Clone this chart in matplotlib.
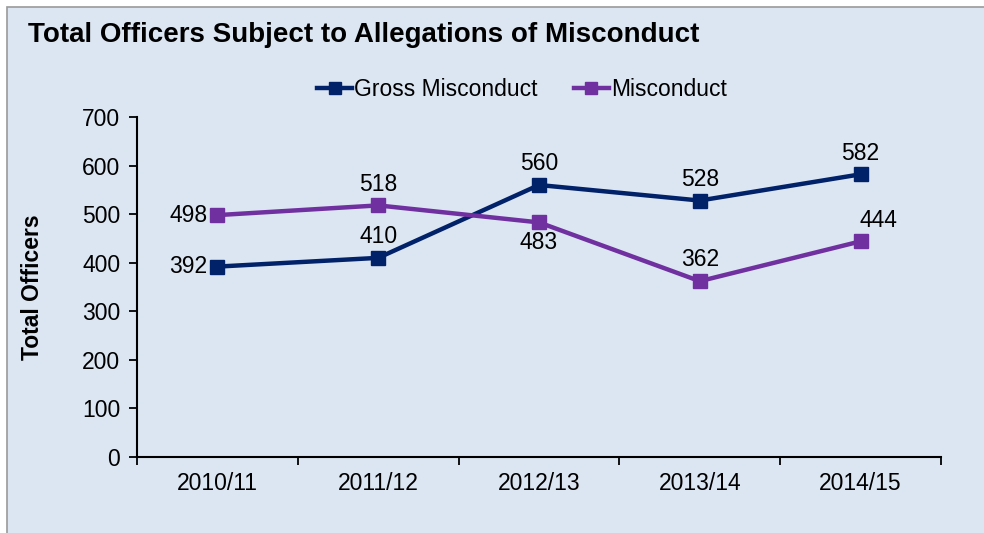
import matplotlib
matplotlib.use("Agg")
import matplotlib.pyplot as plt
from matplotlib.patches import Rectangle
import numpy as np

plt.rcParams['font.family'] = ['Liberation Sans', 'DejaVu Sans']

### data ###
years = ["2010/11", "2011/12", "2012/13", "2013/14", "2014/15"]
gross = [392, 410, 560, 528, 582]
misconduct = [498, 518, 483, 362, 444]

gross_col = "#012169"
misc_col = "#7030A0"
bg_col = "#DCE6F2"

fig = plt.figure(figsize=(9.84, 5.33), dpi=100, facecolor="white")
fig.patches.append(Rectangle((7 / 984, -0.01), 1.02 - 7 / 984, (533 - 7) / 533 + 0.01,
                             transform=fig.transFigure, facecolor=bg_col,
                             edgecolor="#9a9a9a", linewidth=1.2, zorder=-10))

ax = fig.add_axes([137 / 984, (533 - 457) / 533, (941 - 137) / 984, (457 - 117) / 533])
ax.set_facecolor("none")
ax.set_zorder(1)

x = np.arange(len(years))
ax.plot(x, gross, color=gross_col, lw=3.2, marker="s", ms=10, label="Gross Misconduct", zorder=3)
ax.plot(x, misconduct, color=misc_col, lw=3.2, marker="s", ms=10, label="Misconduct", zorder=3)

# data labels
fs = 16.5
g_pos = ["left", "above", "above", "above", "above"]
m_pos = ["left", "above", "below", "above", "above"]
for vals, pos in ((gross, g_pos), (misconduct, m_pos)):
    for i, (v, p) in enumerate(zip(vals, pos)):
        if p == "left":
            ax.annotate(str(v), (i, v), xytext=(-7, 0), textcoords="offset points",
                        ha="right", va="center", fontsize=fs)
        elif p == "above":
            dx = 13 if (vals is misconduct and i == 4) else 0
            ax.annotate(str(v), (i, v), xytext=(dx, 7), textcoords="offset points",
                        ha="center", va="bottom", fontsize=fs)
        else:
            ax.annotate(str(v), (i, v), xytext=(0, -6), textcoords="offset points",
                        ha="center", va="top", fontsize=fs)

ax.set_xlim(-0.5, len(years) - 0.5)
ax.set_ylim(0, 700)
ax.set_yticks(np.arange(0, 701, 100))
ax.tick_params(axis="y", labelsize=fs, length=6, width=1.3, direction="out", pad=6)
ax.set_xticks(np.arange(-0.5, len(years), 1.0))
ax.set_xticklabels([])
ax.set_xticks(x, minor=True)
ax.set_xticklabels(years, minor=True)
ax.tick_params(axis="x", which="major", length=6, width=1.3, direction="out")
ax.tick_params(axis="x", which="minor", length=0, labelsize=fs, pad=11)

for s in ["top", "right"]:
    ax.spines[s].set_visible(False)
for s in ["left", "bottom"]:
    ax.spines[s].set_linewidth(1.5)

ax.set_ylabel("Total Officers", fontsize=16.5, fontweight="bold")
ax.yaxis.set_label_coords(-0.116, 0.5)

fig.text(28 / 984, 1 - 35 / 533, "Total Officers Subject to Allegations of Misconduct",
         fontsize=20, fontweight="bold", ha="left", va="center")

ax.legend(loc="center", bbox_to_anchor=(522 / 984, 1 - 90 / 533), bbox_transform=fig.transFigure,
          ncol=2, frameon=False, fontsize=16.5, handlelength=1.5, handletextpad=0.1,
          columnspacing=1.6, markerscale=0.8)

fig.savefig("out.png", dpi=100, facecolor=fig.get_facecolor())
